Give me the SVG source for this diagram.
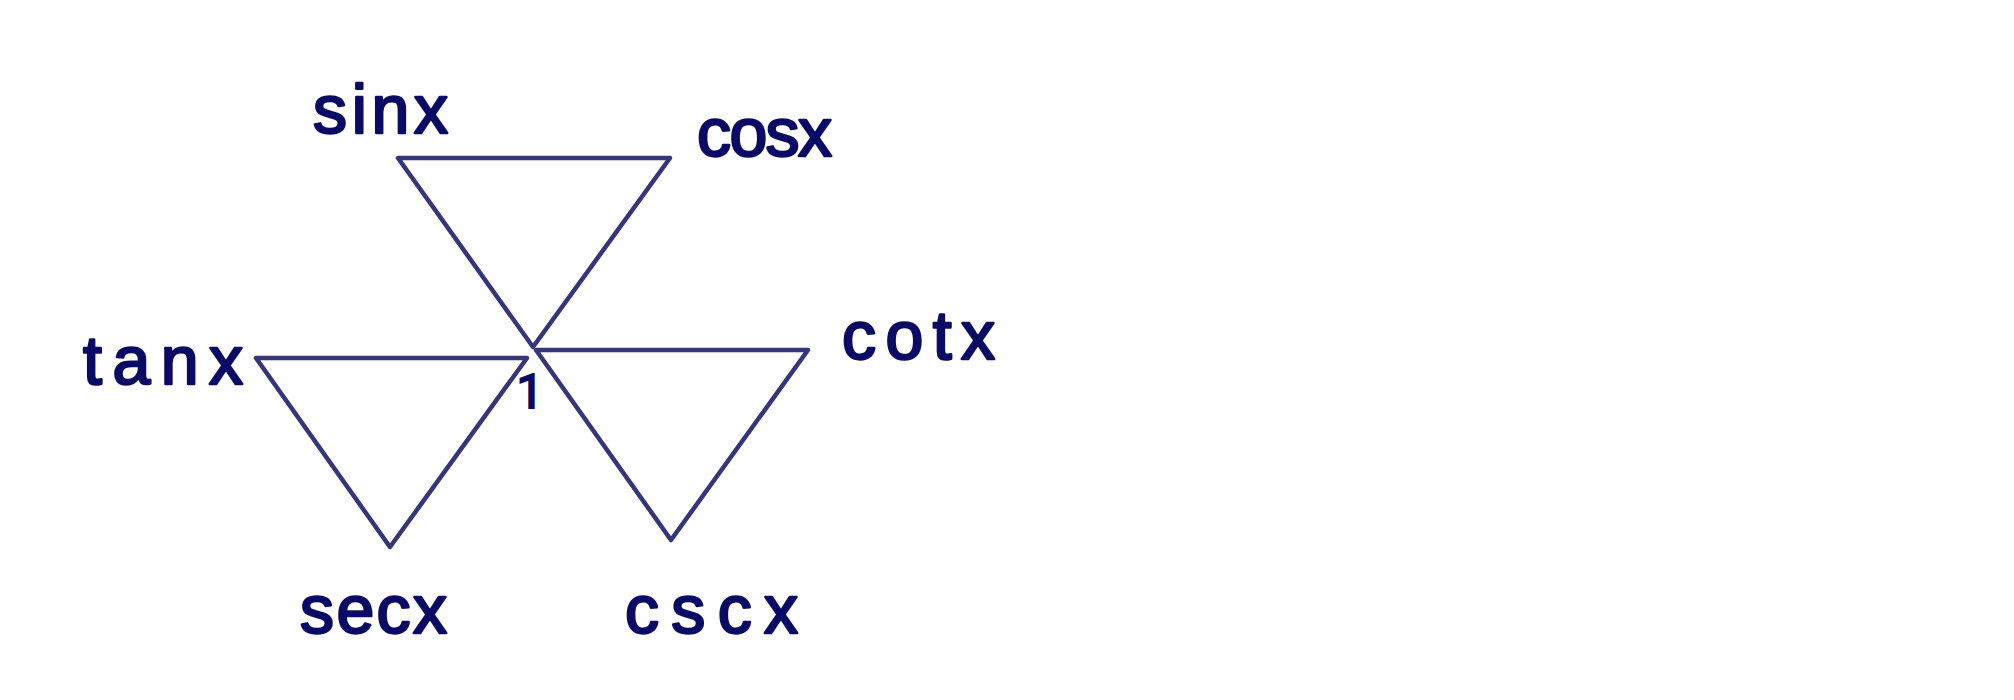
<svg xmlns="http://www.w3.org/2000/svg" width="2014" height="700" viewBox="0 0 2014 700">
  <style>
    .tri { fill: none; stroke: #35367a; stroke-width: 4.5; stroke-linejoin: round; stroke-linecap: round; }
    .lbl { font-family: "Liberation Sans", Arial, sans-serif; font-size: 68px; fill: #0b0b66; stroke: #0b0b66; stroke-width: 2.5; stroke-linejoin: round; }
    .one { font-family: Roboto, "Liberation Sans", sans-serif; font-size: 48px; fill: #0b0b66; stroke: #0b0b66; stroke-width: 2; }
  </style>
  <rect x="0" y="0" width="2014" height="700" fill="#ffffff"/>
  <g id="triangles">
    <polygon id="tri-top" class="tri" points="398,158 670,158 533,347"/>
    <polygon id="tri-left" class="tri" points="256,358 527,358 390,547"/>
    <polygon id="tri-right" class="tri" points="536,350 808,350 671,540"/>
  </g>
  <g id="node-sinx"><text class="lbl" x="313" y="133" textLength="135" lengthAdjust="spacing">sinx</text></g>
  <g id="node-cosx"><text class="lbl" x="697" y="156" textLength="135" lengthAdjust="spacing">cosx</text></g>
  <g id="node-tanx"><text class="lbl" x="83" y="384" textLength="160" lengthAdjust="spacing">tanx</text></g>
  <g id="node-cotx"><text class="lbl" x="842" y="359" textLength="153" lengthAdjust="spacing">cotx</text></g>
  <g id="node-secx"><text class="lbl" x="300" y="633" textLength="147" lengthAdjust="spacing">secx</text></g>
  <g id="node-cscx"><text class="lbl" x="625" y="633" textLength="173" lengthAdjust="spacing">cscx</text></g>
  <g id="node-one"><text class="one" x="530" y="408" text-anchor="middle">1</text></g>
</svg>
